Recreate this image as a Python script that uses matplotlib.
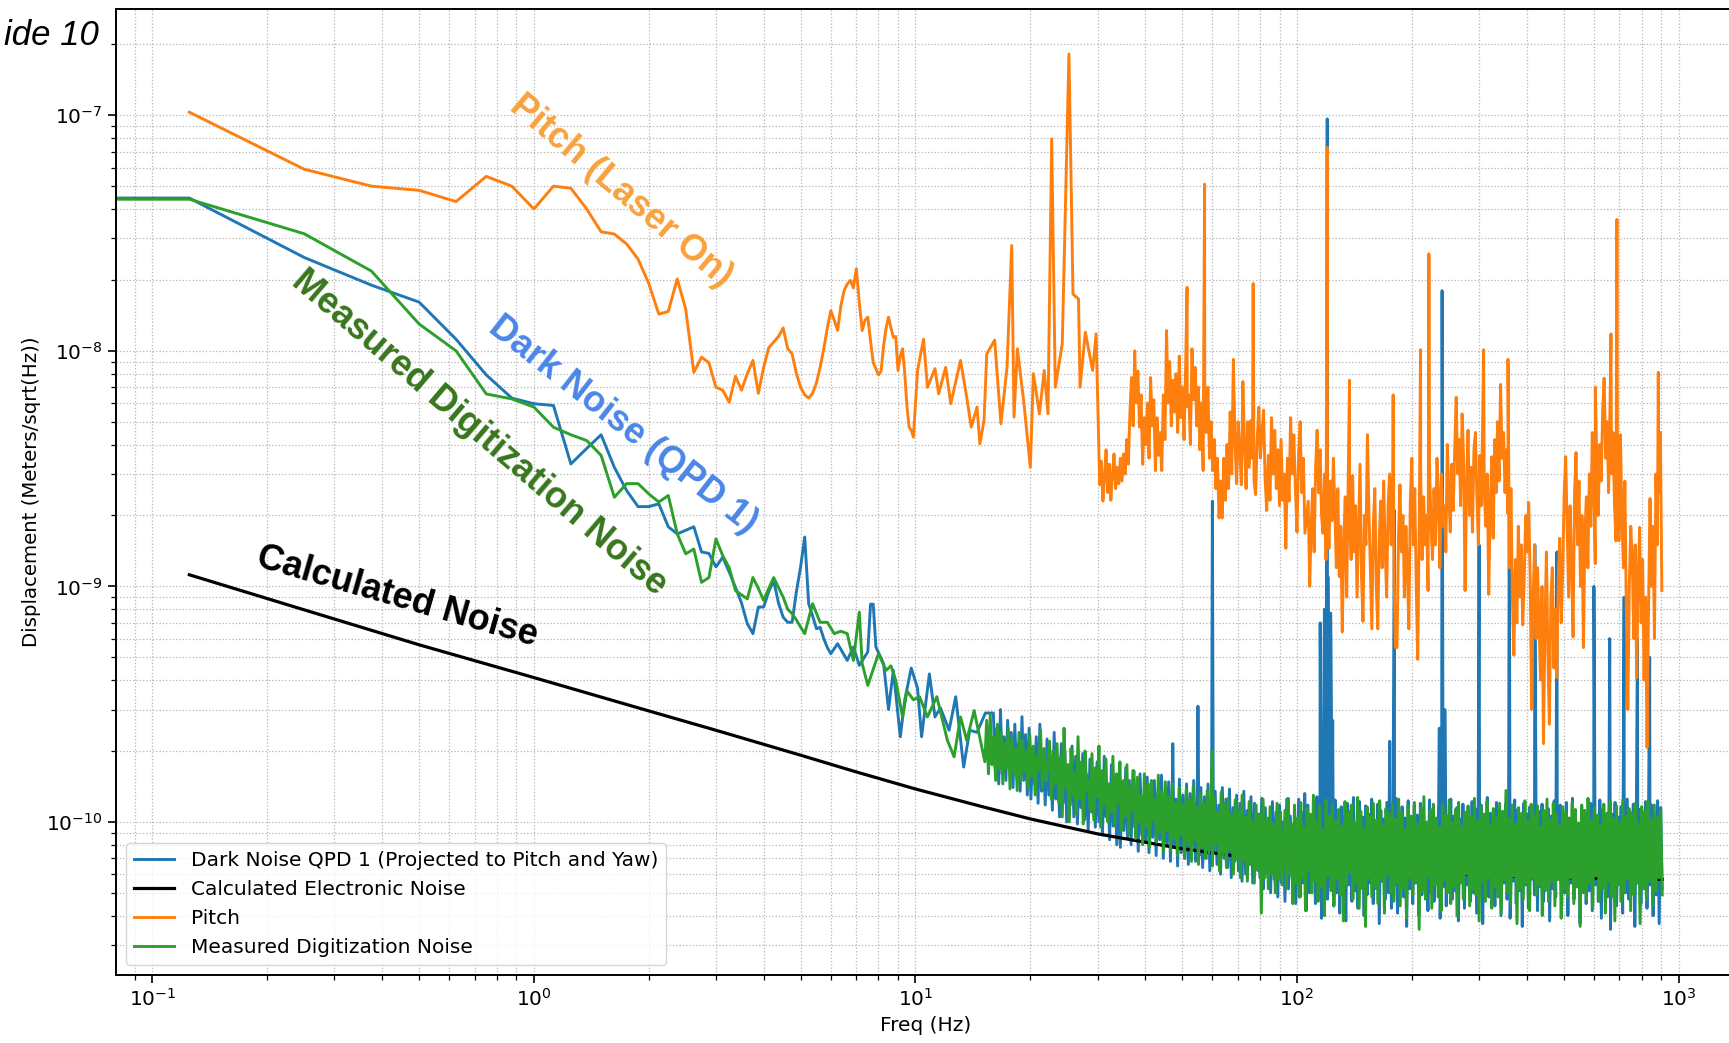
import numpy as np
import matplotlib.pyplot as plt
from matplotlib.ticker import NullFormatter

# amplitude spectral densities in pm/sqrt(Hz), frequencies in Hz
PM = 1e-12

# --- QPD 1 dark noise ---------------------------------------------------
dark_freq_lo = [0.0] + list(np.arange(1, 49) * 0.125) + [
    6.25, 6.625, 6.875, 7.125, 7.5, 7.625, 7.75, 7.875, 8.25, 8.5, 8.75, 9.125,
    9.375, 9.75, 10.125, 10.375, 10.875, 11.25, 11.625, 12.25, 12.75, 13.375,
    13.875, 14.5, 15.25]
dark_lo = [44500,
    44500, 24900, 19000, 16100, 11200, 7900, 6300, 5960,
    5860, 3310, 3850, 4400, 3200, 2550, 2180, 2180,
    2240, 1790, 1670, 1730, 1790, 1400, 1380, 1210,
    1330, 1150, 990, 850, 694, 630, 817, 817,
    950, 1060, 850, 740, 704, 704, 950, 1210,
    1620, 844, 750, 661, 670, 600, 550, 518,
    571, 485, 553, 462, 527, 840, 840, 553, 470, 300, 440, 230,
    330, 450, 370, 230, 425, 279, 305, 245, 340, 171,
    245, 240, 290]
# 16 Hz .. 99 Hz, read on log-spaced columns
dark_band_lo = [
    290, 170, 250, 145, 300, 160, 230, 150, 270, 165,
    240, 140, 260, 155, 215, 135, 280, 150, 235, 130,
    250, 125, 205, 145, 230, 120, 260, 135, 200, 118,
    225, 130, 190, 112, 240, 125, 185, 105, 215, 120,
    200, 100, 175, 118, 210, 105, 190, 98, 170, 115,
    195, 102, 160, 92, 185, 110, 150, 95, 180, 100,
    165, 88, 190, 105, 145, 84, 175, 96, 155, 80,
    160, 78, 140, 92, 170, 85, 150, 80, 165, 95,
    138, 75, 160, 88, 130, 82, 155, 74, 145, 86,
    150, 72, 135, 84, 158, 70, 128, 80, 148, 68,
    140, 78, 125, 65, 152, 74, 130, 70, 145, 66,
    132, 75, 150, 68, 122, 72, 140, 64, 128, 70,
    145, 62, 120, 74, 135, 66, 118, 60, 140, 70,
    125, 64, 138, 58, 115, 68, 130, 62, 120, 56,
    135, 60, 112, 66, 128, 55, 120, 63, 108, 58,
    126, 52, 115, 61, 104, 50, 122, 57, 110, 48,
    118, 55, 100, 46, 125, 52, 106, 58, 98, 45]
# 101 Hz .. 906 Hz
dark_band_hi = [
    125, 48, 110, 55, 132, 42, 118, 50, 104, 58,
    115, 45, 128, 52, 100, 39, 121, 56, 109, 47,
    119, 53, 102, 44, 124, 50, 97, 41, 116, 55,
    106, 38, 120, 54, 111, 46, 127, 51, 99, 43,
    122, 57, 105, 40, 117, 49, 108, 55, 125, 45,
    100, 52, 119, 37, 112, 56, 103, 47, 121, 50,
    114, 43, 98, 54, 126, 41, 109, 58, 116, 48,
    104, 36, 123, 52, 101, 45, 118, 55, 107, 40,
    120, 49, 111, 57, 97, 42, 124, 50, 113, 46,
    102, 55, 117, 39, 108, 53, 121, 44, 99, 57,
    125, 47, 106, 51, 115, 38, 103, 56, 119, 43,
    110, 54, 98, 46, 122, 50, 114, 41, 105, 55,
    118, 37, 101, 53, 127, 48, 109, 57, 96, 44,
    121, 52, 112, 40, 104, 55, 119, 47, 107, 39,
    99, 56, 124, 45, 113, 51, 100, 36, 120, 54,
    108, 43, 116, 57, 102, 49, 125, 42, 111, 53,
    119, 46, 97, 55, 114, 38, 106, 52, 123, 48,
    103, 57, 118, 44, 109, 50, 121, 40, 100, 55,
    126, 47, 107, 53, 98, 37, 117, 56, 112, 45,
    101, 51, 120, 42, 115, 54, 104, 46, 124, 39,
    113, 55, 99, 48, 118, 35, 108, 52, 121, 44,
    105, 57, 116, 41, 102, 50, 125, 47, 110, 53,
    119, 36, 107, 55, 113, 45, 100, 52, 122, 43,
    109, 54, 118, 40, 104, 49, 123, 37, 115, 52]
dark_line_freq = [47.25, 55.0, 60.0, 115.0, 118.0, 119.5, 120.0, 120.5, 121.5,
                  122.5, 124.0, 175.0, 180.0, 236.0, 240.0, 244.0, 300.0, 360.0,
                  420.0, 480.0, 600.0, 660.0, 720.0, 780.0, 840.0]
dark_line = [215, 310, 2300, 700, 800, 1450, 96500, 1100, 590,
             770, 270, 220, 2100, 250, 18000, 300, 1500, 2500,
             1500, 1400, 1000, 600, 900, 600, 500]

# --- calculated electronic noise ----------------------------------------
calc_freq = [0.125, 0.25, 0.5, 1, 2, 3, 5, 7, 10, 15, 20, 30, 50, 70, 100,
             150, 200, 300, 500, 906]
calc_noise = [1120, 795, 565, 410, 296, 245, 192, 163, 138, 116, 103, 89, 77,
              71.5, 67, 63.5, 61.5, 59.5, 58, 57]

# --- pitch, laser on ----------------------------------------------------
pitch_freq_lo = list(np.arange(1, 81) * 0.125) + [
    10.125, 10.5, 10.75, 11.25, 11.5, 12.0, 12.375, 13.125, 13.625, 14.0,
    14.5, 14.75, 15.125, 15.375, 16.125, 16.75, 17.375, 17.875, 18.125, 18.5,
    19.25, 20.0, 20.375, 21.125, 21.75, 22.25, 22.75, 23.25, 24.25, 25.25,
    25.875, 26.75, 27.0, 27.875, 29.125, 29.75]
pitch_lo = [
    103000, 59000, 50000, 48000, 43000, 55000, 50000, 40000,
    50000, 49000, 40000, 32000, 31300, 28400, 24500, 19300,
    14300, 14700, 20200, 15000, 8100, 9400, 8900, 7000,
    6800, 6050, 7800, 6800, 8000, 9100, 6600, 8500,
    10300, 10900, 11500, 12500, 10200, 9700, 8000, 7000,
    6500, 6300, 6600, 7300, 8500, 10200, 12500, 14800,
    13500, 12200, 15500, 18000, 19200, 19900, 18500, 22300,
    16000, 12200, 13500, 13900, 11000, 8900, 8400, 7900,
    8200, 10500, 12500, 13900, 12500, 11400, 11500, 8250,
    9500, 10200, 8000, 5800, 4740, 4600, 4300, 6000,
    8250, 11200, 7000, 8400, 6570, 8500, 5960, 9100, 6360, 4740,
    5770, 4030, 5060, 9700, 11100, 4900, 8500, 28000, 5230, 10200,
    5960, 3200, 8000, 5400, 8250, 5400, 79400, 7000, 10700, 182000,
    17400, 16600, 7000, 12000, 8250, 11800]
# 30.4 Hz .. 105 Hz, read on log-spaced columns
pitch_band_lo = [
    2700, 3400, 2300, 2900, 3800, 2500, 3300, 2320, 3000, 3650,
    2600, 3200, 2730, 3500, 2800, 3650, 3000, 4200, 3300, 5500,
    7700, 4800, 10000, 6000, 8200, 4740, 6500, 3300, 5200, 4000,
    6000, 3500, 7700, 4800, 6200, 3100, 5200, 3600, 4500, 3100,
    6500, 4200, 12200, 6000, 9000, 4800, 7500, 5500, 8000, 4500,
    9500, 5200, 7000, 4200, 8500, 5800, 6500, 4000, 10200, 6200,
    8500, 4800, 7000, 3800, 6000, 3100, 7500, 4500, 7000, 3500,
    5000, 3100, 4200, 2600, 3500, 1950, 2800, 1950, 3500, 2320,
    4000, 2600, 5500, 3000, 9200, 4200, 2730, 5000, 3800, 2700,
    7400, 4000, 2600, 5000, 3200, 5060, 3500, 2800, 2450, 4200,
    5770, 3500, 4500, 5600, 2800, 2100, 3600, 2320, 5200, 3000,
    4600, 2600, 3800, 2200, 4200, 2320, 3000, 1450, 3500, 2300,
    5200, 3000, 4400, 2600, 1700, 3600, 5000, 2500, 3500, 1680]
# 107 Hz .. 904 Hz
pitch_band_hi = [
    2300, 1000, 1800, 2600, 1400, 3200, 4600, 2500, 3800, 2000,
    1680, 3000, 1300, 2500, 1450, 2800, 1900, 3500, 2100, 1200,
    2600, 1100, 1800, 640, 1500, 2400, 900, 2900, 1880, 1300,
    2950, 1400, 2200, 900, 1700, 3300, 1100, 710, 2000, 1500,
    4400, 2100, 1200, 660, 1800, 2600, 1000, 660, 1600, 2300,
    1200, 2800, 1450, 900, 2200, 3000, 1500, 2400, 1100, 550,
    550, 1600, 2700, 1400, 2000, 900, 1800, 1200, 660, 2300,
    3500, 1500, 2600, 1000, 490, 1800, 3000, 1300, 2400, 1500,
    2000, 960, 3200, 1800, 1300, 2600, 1500, 3500, 2450, 1200,
    3000, 1800, 2200, 1400, 4000, 2500, 1700, 3300, 2100, 3800,
    6350, 3000, 4200, 2200, 5400, 3500, 960, 2600, 4600, 2000,
    3200, 1700, 3800, 4500, 2400, 1500, 3600, 2200, 5500, 2500,
    1800, 3000, 925, 2200, 3550, 1600, 4200, 2500, 5000, 2800,
    7200, 3500, 4500, 2500, 3800, 2030, 1200, 2600, 900, 510,
    1300, 700, 1800, 900, 1500, 686, 1100, 2000, 1400, 2270,
    1100, 300, 900, 1500, 600, 1200, 686, 400, 1000, 215,
    700, 1400, 500, 260, 900, 1200, 450, 800, 410, 1100,
    1600, 700, 1160, 2500, 3550, 1800, 900, 2200, 1200, 610,
    2500, 3700, 1500, 2800, 1000, 2000, 550, 1700, 2400, 1200,
    3000, 1800, 4500, 2600, 1250, 3500, 2000, 4000, 2800, 5500,
    7650, 3500, 5000, 2500, 6000, 3000, 4500, 2200, 1560, 3800,
    1560, 4400, 2000, 1200, 2800, 800, 300, 1000, 1800, 1300,
    600, 1500, 410, 1100, 1780, 700, 1300, 400, 900, 207,
    800, 2360, 1000, 1800, 600, 3000, 1500, 2500, 4500, 960]
pitch_line_freq = [51.5, 57.25, 76.75, 120.0, 137.25, 178.625, 210.75, 221.625,
                   308.25, 357.25, 605.0, 665.0, 689.375, 884.75]
pitch_line = [18600, 51000, 19300, 73000, 7500, 6500, 10100, 25800,
              10100, 9200, 7000, 11800, 36100, 8100]

# --- measured digitization noise ----------------------------------------
digi_freq_lo = [0.0] + list(np.arange(1, 41) * 0.125) + [
    5.125, 5.375, 5.625, 5.875, 6.125, 6.375, 6.625, 6.875, 7.125, 7.25, 7.5,
    8.0, 8.375, 8.625, 8.875, 9.25, 9.5, 9.875, 10.25, 10.75, 11.375, 12.125,
    12.625, 13.125, 13.625, 14.25]
digi_lo = [44000,
    44000, 31400, 21800, 13000, 10000, 6560, 6250, 5770,
    4740, 4400, 4160, 3600, 2390, 2730, 2730, 2470,
    2280, 2430, 1670, 1375, 1440, 1040, 1090, 1590,
    1350, 1200, 960, 920, 885, 1090, 980, 872,
    980, 1090, 990, 900, 800, 766, 720, 672,
    630, 844, 704, 704, 630, 645, 630, 485, 778, 470, 380,
    518, 440, 460, 400, 279, 360, 330, 340, 279, 340, 222,
    189, 279, 222, 297]
# 15.2 Hz .. 23.2 Hz, read on log-spaced columns
digi_band_0 = [
    180, 270, 160, 285, 175, 230, 150, 260, 168, 240,
    145, 215, 170, 250, 138, 225, 160, 205, 136, 240,
    150, 222, 165, 200, 140, 235, 155, 210, 130, 190,
    166, 245, 140, 205, 150, 172, 220, 125, 200, 145]
# 23.5 Hz .. 91.5 Hz
digi_band_lo = [
    215, 120, 190, 105, 250, 140, 175, 100, 205, 130,
    160, 108, 230, 125, 180, 98, 200, 135, 150, 112,
    195, 102, 170, 128, 210, 95, 165, 118, 185, 100,
    145, 110, 190, 96, 160, 120, 180, 92, 150, 105,
    175, 88, 140, 112, 165, 85, 155, 100, 130, 80,
    160, 95, 145, 78, 150, 102, 125, 82, 158, 90,
    135, 75, 148, 92, 128, 76, 145, 85, 120, 72,
    140, 88, 118, 70, 138, 80, 125, 68, 142, 84,
    115, 66, 132, 78, 120, 70, 136, 74, 112, 65,
    128, 80, 110, 62, 134, 72, 118, 64, 126, 76,
    108, 60, 124, 70, 112, 58, 130, 68, 105, 56,
    122, 66, 100, 55, 118, 62, 108, 41, 125, 58,
    104, 52, 116, 60, 98, 50, 120, 57, 110, 54]
# 93 Hz .. 906 Hz
digi_band_hi = [
    112, 52, 126, 60, 98, 45, 118, 55, 104, 48,
    121, 58, 95, 42, 115, 62, 108, 50, 130, 56,
    100, 46, 117, 53, 92, 40, 124, 59, 106, 51,
    119, 44, 101, 57, 113, 49, 96, 38, 122, 54,
    109, 61, 118, 47, 99, 55, 127, 43, 111, 52,
    94, 36, 116, 58, 105, 48, 120, 53, 102, 45,
    123, 57, 97, 41, 114, 60, 108, 50, 119, 46,
    103, 55, 125, 44, 110, 52, 93, 39, 117, 58,
    106, 49, 121, 56, 98, 35, 115, 51, 128, 47,
    100, 59, 112, 43, 119, 54, 104, 48, 95, 42,
    118, 57, 107, 50, 124, 45, 99, 53, 113, 40,
    121, 55, 96, 47, 110, 60, 117, 44, 105, 52,
    126, 49, 101, 38, 116, 56, 108, 46, 122, 58,
    97, 43, 114, 53, 104, 48, 120, 41, 111, 57,
    136, 50, 103, 45, 118, 59, 98, 37, 115, 52,
    109, 47, 123, 55, 100, 42, 119, 58, 106, 49,
    117, 54, 95, 40, 112, 51, 125, 46, 102, 56,
    120, 44, 108, 57, 97, 39, 116, 52, 110, 48,
    104, 58, 121, 45, 113, 53, 99, 36, 118, 50,
    111, 47, 126, 55, 101, 43, 115, 59, 107, 46,
    96, 52, 119, 41, 109, 56, 122, 48, 103, 38,
    117, 54, 100, 46, 124, 50, 106, 57, 114, 42,
    108, 49, 120, 55, 98, 37, 116, 52, 111, 47,
    123, 56, 102, 44, 118, 51, 105, 58, 112, 49]
digi_line_freq = [60.0]
digi_line = [200]


def assemble(freq_lo, vals_lo, bands, line_freq, line_vals):
    freqs = [np.asarray(freq_lo, float)]
    vals = [np.asarray(vals_lo, float)]
    for band, start, stop in bands:
        freqs.append(np.geomspace(start, stop, len(band)))
        vals.append(np.asarray(band, float))
    freqs.append(np.asarray(line_freq, float))
    vals.append(np.asarray(line_vals, float))
    freq = np.concatenate(freqs)
    val = np.concatenate(vals)
    order = np.argsort(freq, kind='stable')
    return freq[order], val[order] * PM


f_dark, dark = assemble(dark_freq_lo, dark_lo,
                        [(dark_band_lo, 16.0, 99.2), (dark_band_hi, 101.0, 906.0)],
                        dark_line_freq, dark_line)
f_pitch, pitch = assemble(pitch_freq_lo, pitch_lo,
                          [(pitch_band_lo, 30.4, 104.9), (pitch_band_hi, 107.0, 904.0)],
                          pitch_line_freq, pitch_line)
f_digi, digi = assemble(digi_freq_lo, digi_lo,
                        [(digi_band_0, 15.2, 23.2), (digi_band_lo, 23.5, 91.5),
                         (digi_band_hi, 93.0, 906.0)],
                        digi_line_freq, digi_line)

fig = plt.figure(figsize=(17.29, 10.43), dpi=100)
ax = fig.add_axes([0.0671, 0.0652, 0.937, 0.926])
ax.set_xscale('log')
ax.set_yscale('log')

ax.plot(f_dark, dark, color='tab:blue', lw=2.1,
        label='Dark Noise QPD 1 (Projected to Pitch and Yaw)')
ax.plot(calc_freq, np.array(calc_noise) * PM, color='black', lw=2.3,
        label='Calculated Electronic Noise')
ax.plot(f_pitch, pitch, color='tab:orange', lw=2.1, label='Pitch')
ax.plot(f_digi, digi, color='tab:green', lw=2.1,
        label='Measured Digitization Noise')

ax.set_xlim(0.0803, 1415)
ax.set_ylim(2.24e-11, 2.82e-7)
ax.set_xticks([0.1, 1, 10, 100, 1000])
ax.set_yticks([1e-10, 1e-9, 1e-8, 1e-7])
ax.xaxis.set_minor_formatter(NullFormatter())
ax.yaxis.set_minor_formatter(NullFormatter())
ax.grid(True, which='both', ls=':', color='#b5b5b5', lw=0.9)
ax.set_xlabel('Freq (Hz)', fontsize=14.5)
ax.set_ylabel('Displacement (Meters/sqrt(Hz))', fontsize=14.2)
ax.tick_params(which='major', labelsize=14.5, length=6, width=1.2)
ax.tick_params(which='minor', length=3.5, width=0.9)
for sp in ax.spines.values():
    sp.set_linewidth(1.4)
ax.legend(loc='lower left', fontsize=14.5)

# slide annotations
bold = dict(family='Liberation Sans', weight='bold', fontsize=26,
            ha='center', va='center', rotation_mode='anchor')
fig.text(0.359, 0.8166, 'Pitch (Laser On)', color='#F8A23C', rotation=-40, **bold)
fig.text(0.3603, 0.5925, 'Dark Noise (QPD 1)', color='#4A86E8', rotation=-38, **bold)
fig.text(0.2774, 0.585, 'Measured Digitization Noise', color='#38761D',
         rotation=-40.5, **bold)
fig.text(0.2296, 0.4276, 'Calculated Noise', color='black', rotation=-16, **bold)
fig.text(0.0573, 1 - 45 / 1043, 'ide 10', family='Liberation Sans',
         style='italic', fontsize=25, ha='right', va='baseline')

fig.savefig('out.png', dpi=100)
